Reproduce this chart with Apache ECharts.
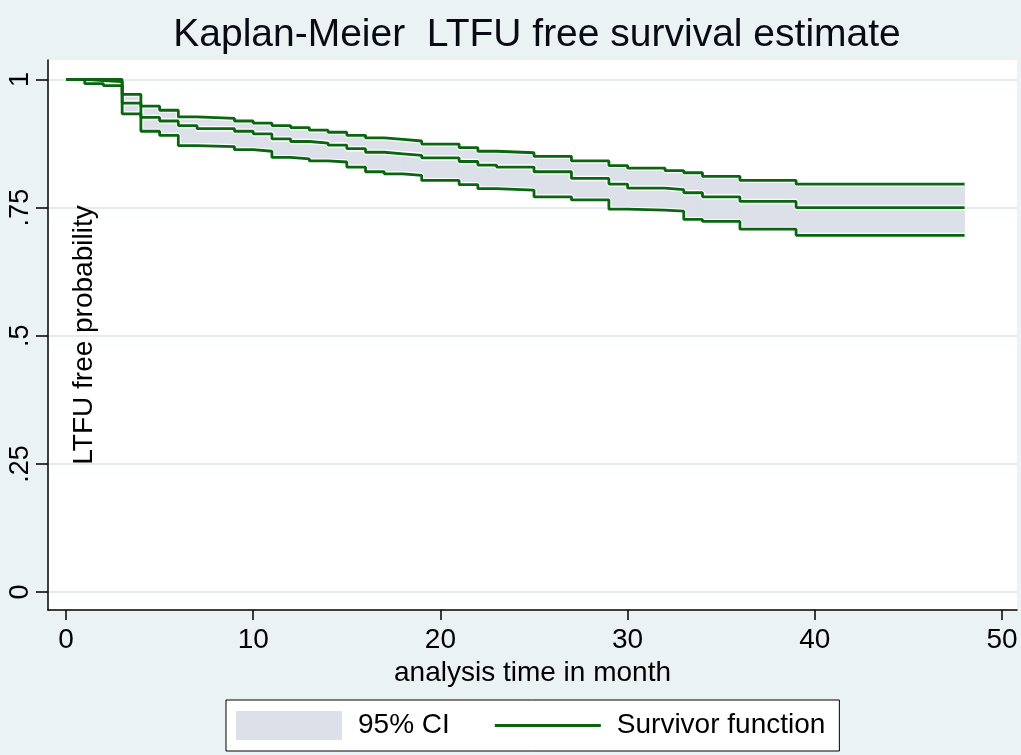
<!DOCTYPE html>
<html>
<head>
<meta charset="utf-8">
<script src="https://cdn.jsdelivr.net/npm/echarts@6/dist/echarts.min.js"></script>
<style>
html,body{margin:0;padding:0;background:#eaf2f3;}
#chart{width:1021px;height:755px;}
</style>
</head>
<body>
<div id="chart"></div>
<script>
// ---- data ----
var months   = [0,1,2,3,4,5,6,7,9,10,11,12,13,14,15,16,17,18,19,21,22,23,25,27,29,30,32,33,34,36,39,48];
var survival = [1,0.998,0.996,0.954,0.926,0.919,0.910,0.904,0.899,0.894,0.884,0.879,0.876,0.872,0.865,0.858,0.855,0.852,0.847,0.840,0.833,0.829,0.820,0.807,0.796,0.788,0.785,0.779,0.771,0.762,0.750,0.750];
var upperCI  = [1,1,1,0.971,0.948,0.940,0.927,0.924,0.919,0.915,0.910,0.906,0.901,0.897,0.891,0.886,0.883,0.880,0.874,0.867,0.860,0.857,0.850,0.841,0.832,0.827,0.822,0.818,0.811,0.803,0.796,0.796];
var lowerCI  = [1,0.992,0.988,0.933,0.899,0.891,0.871,0.869,0.863,0.860,0.848,0.845,0.841,0.839,0.829,0.820,0.816,0.813,0.803,0.795,0.787,0.784,0.771,0.765,0.747,0.745,0.743,0.727,0.723,0.708,0.696,0.696];
var xTicks = [0,10,20,30,40,50];
var yTicks = [0,0.25,0.5,0.75,1];
var yTickLabels = ['0','.25','.5','.75','1'];

var titleText = 'Kaplan-Meier  LTFU free survival estimate';
var xName = 'analysis time in month';
var yName = 'LTFU free probability';
var ciName = '95% CI';
var survName = 'Survivor function';

function pairs(ys){ return months.map(function(m,i){ return [m, ys[i]]; }); }
// one band cell per step interval: [start, end, lower, upper]
var bandCells = months.slice(0, -1).map(function(m,i){ return [m, months[i+1], lowerCI[i], upperCI[i]]; });

var FONT = '"Liberation Sans", Arial, sans-serif';
var GREEN = '#0a6410';
var CI_FILL = '#dce0e8';

var chart = echarts.init(document.getElementById('chart'), null, {renderer:'canvas'});
chart.setOption({
  animation:false,
  backgroundColor:'#eaf2f3',
  textStyle:{fontFamily:FONT},
  title:{
    text:titleText, left:532, textAlign:'center', top:11,
    textStyle:{fontFamily:FONT, fontSize:39, fontWeight:'normal', color:'#0a0a14'}
  },
  legend:{
    left:226, top:700,
    padding:[11,14,11,10],
    itemGap:45,
    itemWidth:106, itemHeight:29,
    symbolKeepAspect:true,
    backgroundColor:'#ffffff',
    borderColor:'#000', borderWidth:1, borderRadius:0,
    selectedMode:false,
    textStyle:{fontFamily:FONT, fontSize:28, color:'#000', padding:[0,0,0,11]},
    data:[
      {name:ciName, icon:'path://M0,0 L106,0 L106,29 L0,29 Z', itemStyle:{color:CI_FILL, borderWidth:0}},
      {name:survName, icon:'path://M0,0 L106,0 L106,2.8 L0,2.8 Z', itemStyle:{color:GREEN, borderWidth:0}}
    ]
  },
  grid:{
    left:48, right:4, top:60, bottom:145,
    show:true, backgroundColor:'#ffffff', borderWidth:0,
    containLabel:false
  },
  xAxis:{
    type:'value', min:-0.9615, max:50.80,
    name:xName, nameLocation:'middle', nameGap:44,
    nameTextStyle:{fontFamily:FONT, fontSize:28, color:'#000'},
    axisLine:{show:true, onZero:false, lineStyle:{color:'#000', width:1.5}},
    axisTick:{show:true, length:10, customValues:xTicks, lineStyle:{color:'#000', width:1.5}},
    axisLabel:{show:true, customValues:xTicks, margin:16, fontFamily:FONT, fontSize:28, color:'#000'},
    splitLine:{show:false}
  },
  yAxis:{
    type:'value', min:-0.0351, max:1.038,
    name:yName, nameLocation:'middle', nameGap:-50,
    nameTextStyle:{fontFamily:FONT, fontSize:28, color:'#000'},
    axisLine:{show:true, onZero:false, lineStyle:{color:'#000', width:1.5}},
    axisTick:{show:true, length:12, customValues:yTicks, lineStyle:{color:'#000', width:1.5}},
    axisLabel:{show:true, customValues:yTicks, rotate:90, margin:14, fontFamily:FONT, fontSize:27, color:'#000',
      formatter:function(v){ var i = yTicks.indexOf(v); return i>=0 ? yTickLabels[i] : ''; }},
    splitLine:{show:true, lineStyle:{color:'#e3ecee', width:2}}
  },
  series:[
    {name:ciName, type:'custom', silent:true, z:2,
     itemStyle:{color:CI_FILL},
     data:bandCells,
     encode:{x:[0,1], y:[2,3]},
     renderItem:function(params, api){
       var p1 = api.coord([api.value(0), api.value(3)]);
       var p2 = api.coord([api.value(1), api.value(2)]);
       return {type:'rect',
         shape:{x:p1[0], y:p1[1], width:p2[0]-p1[0], height:p2[1]-p1[1]},
         style:{fill:CI_FILL, stroke:CI_FILL, lineWidth:0.8}};
     }},
    {name:'upperWhite', type:'line', step:'end', symbol:'none', silent:true,
     data:pairs(upperCI), lineStyle:{color:'#ffffff', width:5}, z:3},
    {name:'lowerWhite', type:'line', step:'end', symbol:'none', silent:true,
     data:pairs(lowerCI), lineStyle:{color:'#ffffff', width:5}, z:3},
    {name:'survWhite', type:'line', step:'end', symbol:'none', silent:true,
     data:pairs(survival), lineStyle:{color:'#ffffff', width:5.5}, z:3},
    {name:'upperLine', type:'line', step:'end', symbol:'none', silent:true,
     data:pairs(upperCI), lineStyle:{color:GREEN, width:2.8}, z:4},
    {name:'lowerLine', type:'line', step:'end', symbol:'none', silent:true,
     data:pairs(lowerCI), lineStyle:{color:GREEN, width:2.8}, z:4},
    {name:survName, type:'line', step:'end', symbol:'none', silent:true,
     data:pairs(survival), lineStyle:{color:GREEN, width:2.8}, itemStyle:{color:GREEN}, z:5}
  ]
});
</script>
</body>
</html>
